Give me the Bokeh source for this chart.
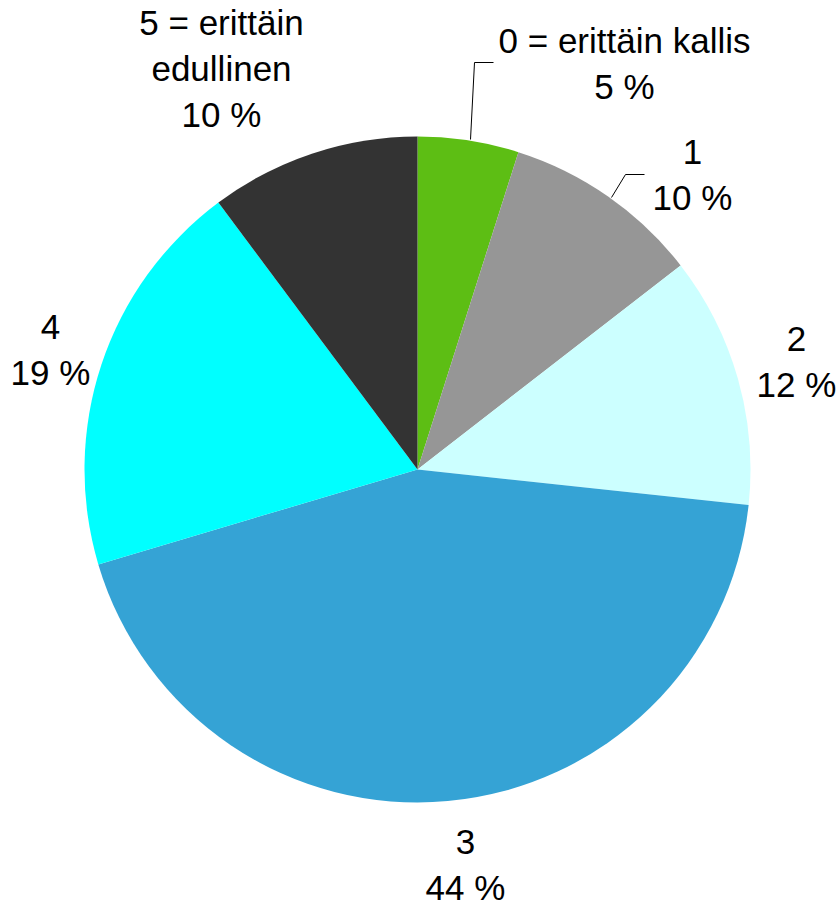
import math
from bokeh.plotting import figure
from bokeh.models import Range1d, ColumnDataSource
from bokeh.core.properties import value
from bokeh.embed import file_html
from bokeh.resources import INLINE

# ---- data ----
categories = ["0 = erittäin kallis", "1", "2", "3", "4", "5 = erittäin\nedullinen"]
shares = [4.9, 9.6, 12.2, 43.7, 19.4, 10.2]
colors = ["#5DBE14", "#969696", "#CCFFFF", "#35A3D5", "#00FFFF", "#333333"]

# ---- layout (image pixel coordinates) ----
W, H = 838, 903
def Y(img_y):
    return H - img_y

cx, cy, r = 417, Y(469), 333
total = sum(shares)
starts, ends = [], []
cum = 0.0
for s in shares:
    starts.append(math.pi / 2 - 2 * math.pi * cum / total)
    cum += s
    ends.append(math.pi / 2 - 2 * math.pi * cum / total)

p = figure(width=W, height=H, output_backend="svg", toolbar_location=None,
           x_range=Range1d(0, W), y_range=Range1d(0, H),
           min_border=0, outline_line_color=None)
p.axis.visible = False
p.xgrid.visible = False
p.ygrid.visible = False

src = ColumnDataSource(dict(x=[cx] * len(shares), y=[cy] * len(shares),
                            start=starts, end=ends, color=colors))
p.wedge(x="x", y="y", radius=r, start_angle="start", end_angle="end",
        direction="clock", fill_color="color", line_color=None, source=src)

# leader lines for the two small slices
p.line(x=[470, 474, 493], y=[Y(139), Y(62), Y(62)], line_color="#000000", line_width=1)
p.line(x=[611, 625, 644], y=[Y(197), Y(174), Y(174)], line_color="#000000", line_width=1)

# label anchors: (center x, first line position in image y)
anchors = [(624, 40), (692, 151), (796, 338), (465, 841), (50, 326), (221, 22)]
spacing = 46
tx, ty, tt = [], [], []
for cat, s, (ax, ay) in zip(categories, shares, anchors):
    lines = cat.split("\n") + [f"{round(s):d} %"]
    for i, ln in enumerate(lines):
        tx.append(ax)
        ty.append(Y(ay + i * spacing))
        tt.append(ln)
p.text(x=tx, y=ty, text=tt, text_font=value("Liberation Sans"), text_font_size="35px",
       text_align="center", text_baseline="alphabetic", text_color="#000000")

open("out.html", "w").write(file_html(p, INLINE))
